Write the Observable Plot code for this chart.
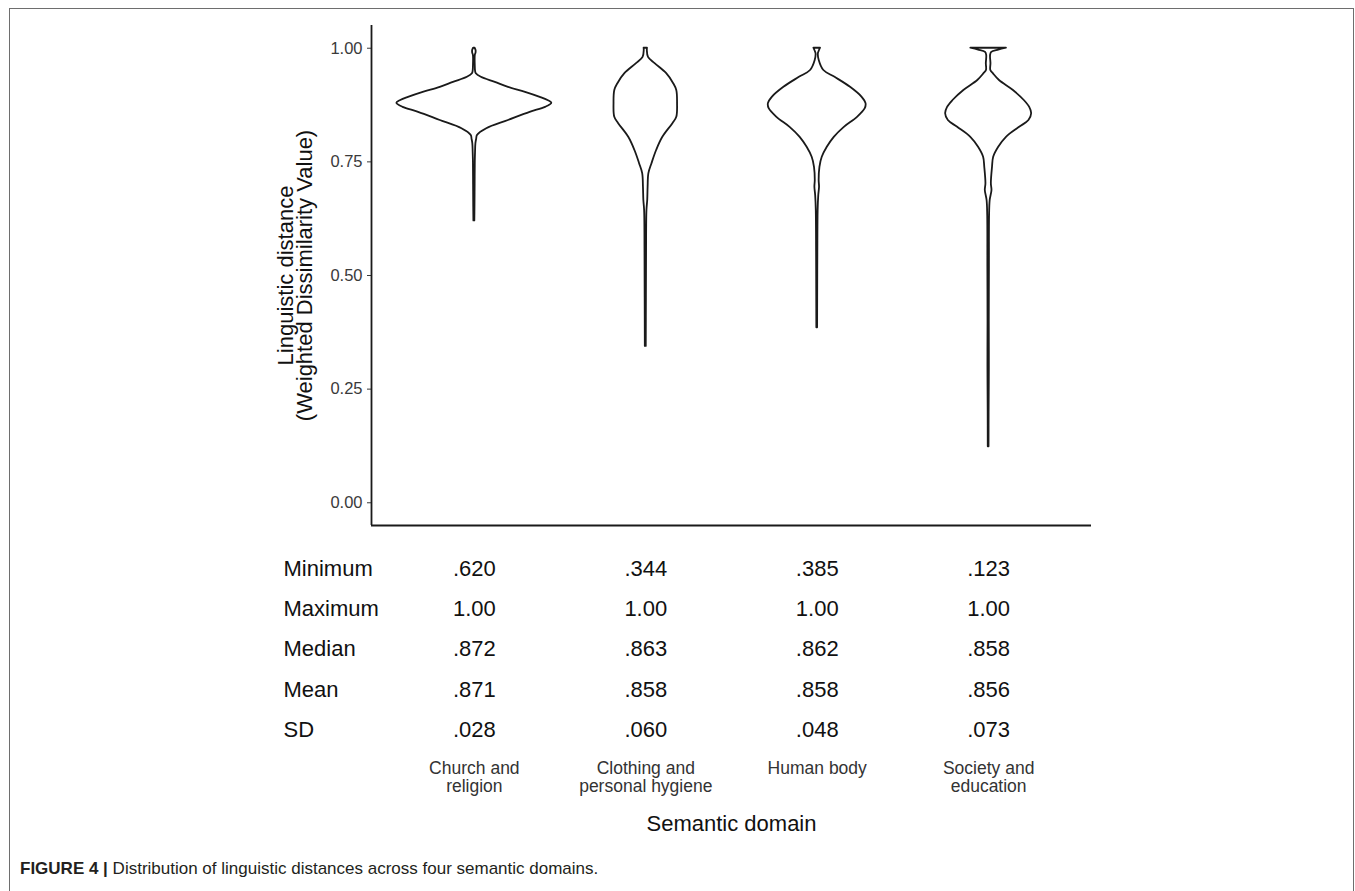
<!DOCTYPE html>
<html><head><meta charset="utf-8">
<script src="https://cdn.jsdelivr.net/npm/d3@7"></script>
<script src="https://cdn.jsdelivr.net/npm/@observablehq/plot@0.6"></script>
<style>
html,body{margin:0;padding:0;background:#fff;overflow:hidden;width:1355px;height:891px;}
body{font-family:"Liberation Sans",Arial,sans-serif;}
#frame{position:absolute;left:9px;top:8px;width:1345px;height:960px;border:1px solid #6e6e6e;box-sizing:border-box;}
#chart{position:absolute;left:0;top:0;}
#caption{position:absolute;left:20px;top:859px;font-size:17px;color:#231f20;white-space:nowrap;}
</style></head><body>
<div id="frame"></div>
<div id="chart"></div>
<div id="caption"><b>FIGURE 4 |</b> Distribution of linguistic distances across four semantic domains.</div>
<script>
// ---- data ----
const categories = ["Church and\nreligion", "Clothing and\npersonal hygiene", "Human body", "Society and\neducation"];

// violin profiles: value (y) and relative density (1 = widest violin)
const churchY = [1.0, 0.995, 0.99, 0.984, 0.975, 0.96, 0.95, 0.944, 0.936, 0.925, 0.914, 0.903, 0.892, 0.885, 0.879, 0.870, 0.859, 0.841, 0.823, 0.808, 0.80, 0.79, 0.77, 0.75, 0.70, 0.65, 0.62];
const churchD = [0.01, 0.022, 0.022, 0.012, 0.01, 0.012, 0.015, 0.025, 0.09, 0.27, 0.44, 0.66, 0.85, 0.95, 1.0, 0.92, 0.72, 0.44, 0.16, 0.04, 0.03, 0.02, 0.015, 0.012, 0.01, 0.008, 0.006];

const clothingY = [1.0, 0.995, 0.98, 0.966, 0.944, 0.922, 0.907, 0.878, 0.848, 0.834, 0.804, 0.775, 0.746, 0.724, 0.694, 0.665, 0.643, 0.55, 0.45, 0.344];
const clothingD = [0.022, 0.02, 0.035, 0.12, 0.27, 0.36, 0.40, 0.41, 0.40, 0.35, 0.22, 0.14, 0.08, 0.04, 0.03, 0.025, 0.015, 0.01, 0.008, 0.006];

const humanY = [1.0, 0.995, 0.988, 0.973, 0.951, 0.936, 0.914, 0.892, 0.878, 0.867, 0.848, 0.826, 0.804, 0.782, 0.760, 0.738, 0.709, 0.694, 0.676, 0.643, 0.55, 0.45, 0.385];
const humanD = [0.043, 0.03, 0.015, 0.026, 0.086, 0.23, 0.43, 0.58, 0.63, 0.62, 0.52, 0.35, 0.22, 0.13, 0.065, 0.035, 0.025, 0.03, 0.02, 0.012, 0.008, 0.006, 0.005];

const societyY = [1.0, 0.996, 0.991, 0.984, 0.966, 0.951, 0.944, 0.929, 0.907, 0.885, 0.870, 0.856, 0.841, 0.826, 0.804, 0.782, 0.760, 0.738, 0.702, 0.687, 0.665, 0.632, 0.52, 0.40, 0.30, 0.20, 0.123];
const societyD = [0.23, 0.13, 0.04, 0.025, 0.03, 0.028, 0.06, 0.14, 0.32, 0.46, 0.53, 0.555, 0.52, 0.40, 0.23, 0.13, 0.065, 0.05, 0.035, 0.043, 0.02, 0.012, 0.01, 0.008, 0.009, 0.006, 0.005];

// summary statistics table
const statNames = ["Minimum", "Maximum", "Median", "Mean", "SD"];
const minimums = [0.620, 0.344, 0.385, 0.123];
const maximums = [1.00, 1.00, 1.00, 1.00];
const medians = [0.872, 0.863, 0.862, 0.858];
const means = [0.871, 0.858, 0.858, 0.856];
const sds = [0.028, 0.060, 0.048, 0.073];
const yTicks = [0, 0.25, 0.5, 0.75, 1];

// ---- build ----
const profiles = [[churchY, churchD], [clothingY, clothingD], [humanY, humanD], [societyY, societyD]];
const halfMax = 0.452; // half of max violin width in category units
const violinRows = profiles.flatMap(([ys, ds], i) =>
  ys.map((y, k) => ({cat: i, y, x1: i + 1 - ds[k] * halfMax, x2: i + 1 + ds[k] * halfMax})));

const fmt = v => v >= 1 ? v.toFixed(2) : v.toFixed(3).replace(/^0/, "");
const statCols = [minimums, maximums, medians, means, sds];
const rowDy = [43, 83, 123, 164, 204];

const tableFont = "Liberation Sans, Arial, sans-serif";
const tableMarks = statCols.flatMap((vals, r) => [
  Plot.text([statNames[r]], {text: d => d, frameAnchor: "bottom-left", dx: -88, dy: rowDy[r], textAnchor: "start", lineAnchor: "middle", fontSize: 22, fill: "#111", fontFamily: tableFont}),
  Plot.text(vals, {x: (d, i) => i + 1, text: d => fmt(d), frameAnchor: "bottom", dy: rowDy[r], lineAnchor: "middle", fontSize: 22, fill: "#111", fontFamily: tableFont})
]);

const plot = Plot.plot({
  width: 1355, height: 850,
  marginLeft: 371, marginRight: 264, marginTop: 25, marginBottom: 325,
  x: {domain: [0.4, 4.6], axis: null},
  y: {domain: [-0.05, 1.05], ticks: yTicks, tickFormat: d3.format(".2f"), tickSize: 4, tickPadding: 5, label: null},
  style: {fontFamily: "Liberation Sans, Arial, sans-serif", fontSize: "16.5px", color: "#3a3a3a", background: "transparent"},
  marks: [
    Plot.areaX(violinRows, {y: "y", x1: "x1", x2: "x2", z: "cat", fill: "none", stroke: "#1a1a1a", strokeWidth: 1.8, curve: "catmull-rom"}),
    Plot.ruleX([0.4], {stroke: "#1a1a1a", strokeWidth: 1.8}),
    Plot.ruleY([-0.05], {stroke: "#1a1a1a", strokeWidth: 1.8}),
    Plot.text(["Linguistic distance\n(Weighted Dissimilarity Value)"], {text: d => d, frameAnchor: "left", dx: -75, rotate: -90, textAnchor: "middle", lineAnchor: "middle", fontSize: 22, lineHeight: 0.88, fill: "#111"}),
    ...tableMarks,
    Plot.text(categories, {x: (d, i) => i + 1, text: d => d, frameAnchor: "bottom", dy: 236, lineAnchor: "top", fontSize: 17.5, lineHeight: 1.03, fill: "#333", fontFamily: tableFont}),
    Plot.text(["Semantic domain"], {text: d => d, frameAnchor: "bottom", dy: 298, lineAnchor: "middle", fontSize: 22, fill: "#111"})
  ]
});
document.getElementById("chart").appendChild(plot);
</script></body></html>
